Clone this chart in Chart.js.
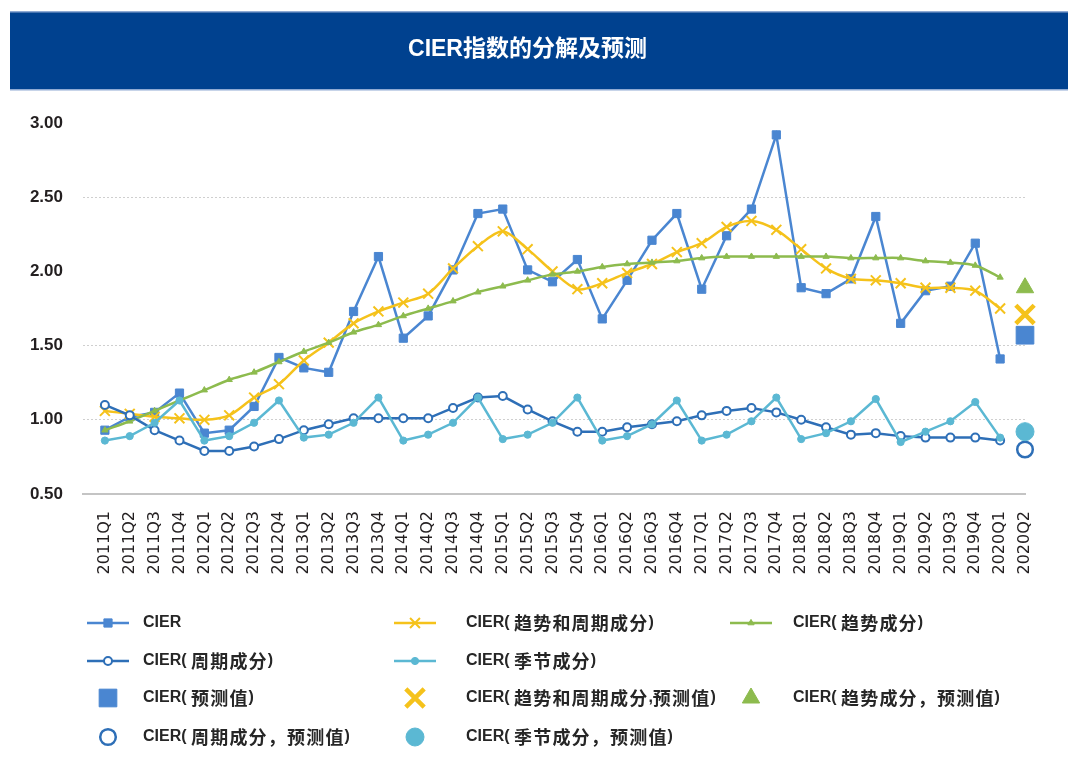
<!DOCTYPE html>
<html><head><meta charset="utf-8">
<script src="https://cdn.jsdelivr.net/npm/chart.js@4/dist/chart.umd.min.js"></script>
<style>html,body{margin:0;padding:0;background:#fff}canvas{display:block}</style>
</head><body>
<canvas id="c" width="1080" height="771"></canvas>
<script>
const quarters = ['2011Q1','2011Q2','2011Q3','2011Q4','2012Q1','2012Q2','2012Q3','2012Q4',
  '2013Q1','2013Q2','2013Q3','2013Q4','2014Q1','2014Q2','2014Q3','2014Q4',
  '2015Q1','2015Q2','2015Q3','2015Q4','2016Q1','2016Q2','2016Q3','2016Q4',
  '2017Q1','2017Q2','2017Q3','2017Q4','2018Q1','2018Q2','2018Q3','2018Q4',
  '2019Q1','2019Q2','2019Q3','2019Q4','2020Q1','2020Q2'];
const yTicks = [0.5, 1.0, 1.5, 2.0, 2.5, 3.0];
const titleText = 'CIER指数的分解及预测';

const cier = [0.93,1.02,1.05,1.18,0.91,0.93,1.09,1.42,1.35,1.32,1.73,2.10,1.55,1.70,2.01,2.39,
  2.42,2.01,1.93,2.08,1.68,1.94,2.21,2.39,1.88,2.24,2.42,2.92,1.89,1.85,1.95,2.37,1.65,1.87,1.90,2.19,1.41];
const trendCycle = [1.06,1.04,1.02,1.01,1.00,1.03,1.15,1.24,1.40,1.52,1.65,1.73,1.79,1.85,2.02,2.17,
  2.27,2.15,2.00,1.88,1.92,1.99,2.05,2.13,2.19,2.30,2.34,2.28,2.15,2.02,1.95,1.94,1.92,1.89,1.89,1.87,1.75];
const trend = [0.93,0.99,1.06,1.13,1.20,1.27,1.32,1.39,1.46,1.52,1.59,1.64,1.70,1.75,1.80,1.86,
  1.90,1.94,1.98,2.00,2.03,2.05,2.06,2.07,2.09,2.10,2.10,2.10,2.10,2.10,2.09,2.09,2.09,2.07,2.06,2.04,1.96];
const cycle = [1.10,1.03,0.93,0.86,0.79,0.79,0.82,0.87,0.93,0.97,1.01,1.01,1.01,1.01,1.08,1.15,
  1.16,1.07,0.99,0.92,0.92,0.95,0.97,0.99,1.03,1.06,1.08,1.05,1.00,0.95,0.90,0.91,0.89,0.88,0.88,0.88,0.86];
const seasonal = [0.86,0.89,0.98,1.13,0.86,0.89,0.98,1.13,0.88,0.90,0.98,1.15,0.86,0.90,0.98,1.15,
  0.87,0.90,0.98,1.15,0.86,0.89,0.97,1.13,0.86,0.90,0.99,1.15,0.87,0.91,0.99,1.14,0.85,0.92,0.99,1.12,0.88];
const forecastCier = [1.57];
const forecastTrendCycle = [1.71];
const forecastTrend = [1.89];
const forecastCycle = [0.80];
const forecastSeasonal = [0.92];

const seriesNames = ['CIER','CIER( 趋势和周期成分)','CIER( 趋势成分)','CIER( 周期成分)','CIER( 季节成分)',
  'CIER( 预测值)','CIER( 趋势和周期成分,预测值)','CIER( 趋势成分，预测值)','CIER( 周期成分，预测值)','CIER( 季节成分，预测值)'];

const C_BLUE = '#4A86D1', C_YEL = '#F5C21B', C_GRN = '#8DBB4E', C_DBL = '#2E6FB7', C_LBL = '#5BB8D3';

const pts = (arr, start) => arr.map((v, i) => ({x: start + i, y: v}));
const lastIdx = quarters.length - 1;

function lineDs(i, data, color, style, radius, extra) {
  return Object.assign({
    label: seriesNames[i], data: pts(data, 0), borderColor: color, backgroundColor: color,
    borderWidth: 2.5, pointStyle: style, pointRadius: radius, pointHoverRadius: radius,
    pointBackgroundColor: color, pointBorderColor: color, pointBorderWidth: 1,
    tension: 0, fill: false, clip: false, order: -i
  }, extra || {});
}
function fcDs(i, data, color, style, radius, extra) {
  return Object.assign({
    label: seriesNames[i], data: pts(data, lastIdx), borderColor: color, backgroundColor: color,
    showLine: false, pointStyle: style, pointRadius: radius, pointHoverRadius: radius,
    pointBackgroundColor: color, pointBorderColor: color, pointBorderWidth: 1,
    clip: false, order: -i
  }, extra || {});
}

const datasets = [
  lineDs(0, cier, C_BLUE, 'rect', 5.8),
  lineDs(1, trendCycle, C_YEL, 'crossRot', 7, {pointBorderWidth: 2, tension: 0.3}),
  lineDs(2, trend, C_GRN, 'triangle', 3.6, {tension: 0.3}),
  lineDs(3, cycle, C_DBL, 'circle', 4, {pointBackgroundColor: '#fff', pointBorderWidth: 2}),
  lineDs(4, seasonal, C_LBL, 'circle', 3.6),
  fcDs(5, forecastCier, C_BLUE, 'rect', 12.5),
  fcDs(6, forecastTrendCycle, C_YEL, 'crossRot', 13, {pointBorderWidth: 4.5}),
  fcDs(7, forecastTrend, C_GRN, 'triangle', 10),
  fcDs(8, forecastCycle, C_DBL, 'circle', 7.8, {pointBackgroundColor: '#fff', pointBorderWidth: 2.5}),
  fcDs(9, forecastSeasonal, C_LBL, 'circle', 9)
];

// legend grid: [row, col] per dataset
const legendCells = [[0,0],[0,1],[0,2],[1,0],[1,1],[2,0],[2,1],[2,2],[3,0],[3,1]];
const legendRowY = [623, 661, 698, 737];
const legendMarkX = [108, 415, 751];
const legendTextX = [143, 466, 793];

const CJK = /[\u3000-\u303f\u4e00-\u9fff\uff00-\uffef]/;
function drawRich(ctx, text, x, y) {
  const runs = text.match(/[\u3000-\u303f\u4e00-\u9fff\uff00-\uffef]+|[^\u3000-\u303f\u4e00-\u9fff\uff00-\uffef]+/g) || [];
  let cx = x;
  for (const r of runs) {
    const cjk = CJK.test(r);
    ctx.font = cjk ? "bold 18px 'Noto Sans CJK SC'" : "bold 16px 'Liberation Sans', 'Noto Sans CJK SC'";
    if ('letterSpacing' in ctx) ctx.letterSpacing = cjk ? '1.2px' : '0px';
    ctx.fillText(r, cx, y);
    cx += ctx.measureText(r).width;
  }
  if ('letterSpacing' in ctx) ctx.letterSpacing = '0px';
}

const bannerPlugin = {
  id: 'banner',
  beforeDraw(chart) {
    const ctx = chart.ctx;
    ctx.save();
    ctx.fillStyle = '#fff';
    ctx.fillRect(0, 0, chart.width, chart.height);
    ctx.fillStyle = '#00418F';
    ctx.fillRect(10, 12, 1058, 78);
    ctx.fillStyle = '#8FAAD3';
    ctx.fillRect(10, 11, 1058, 1.5);
    ctx.fillRect(10, 89, 1058, 1.5);
    ctx.restore();
  }
};

const legendPlugin = {
  id: 'gridLegend',
  afterDraw(chart) {
    const ctx = chart.ctx;
    const draw = Chart.helpers && Chart.helpers.drawPoint;
    chart.data.datasets.forEach((ds, i) => {
      const [row, col] = legendCells[i];
      const y = legendRowY[row];
      const mx = legendMarkX[col];
      ctx.save();
      if (ds.showLine !== false) {
        ctx.strokeStyle = ds.borderColor;
        ctx.lineWidth = ds.borderWidth;
        ctx.beginPath();
        ctx.moveTo(mx - 21, y);
        ctx.lineTo(mx + 21, y);
        ctx.stroke();
      }
      ctx.fillStyle = ds.pointBackgroundColor;
      ctx.strokeStyle = ds.pointBorderColor;
      ctx.lineWidth = ds.pointBorderWidth;
      if (draw) draw(ctx, {pointStyle: ds.pointStyle, radius: ds.pointRadius, borderWidth: ds.pointBorderWidth, rotation: 0}, mx, y);
      ctx.fillStyle = '#262626';
      ctx.textAlign = 'left';
      ctx.textBaseline = 'middle';
      drawRich(ctx, ds.label, legendTextX[col], y);
      ctx.restore();
    });
  }
};

new Chart(document.getElementById('c'), {
  type: 'line',
  data: { datasets },
  options: {
    responsive: false,
    devicePixelRatio: 1,
    animation: false,
    events: [],
    layout: { padding: { left: 30, right: 55, top: 12, bottom: 182 } },
    plugins: {
      legend: { display: false },
      tooltip: { enabled: false },
      title: {
        display: true,
        text: titleText,
        color: '#ffffff',
        font: { family: "'Liberation Sans', 'Noto Sans CJK SC'", size: 23, weight: 'bold', lineHeight: 1.2 },
        padding: { top: 24, bottom: 59.4 }
      }
    },
    scales: {
      x: {
        type: 'linear',
        min: -0.88,
        max: lastIdx,
        afterBuildTicks(scale) { scale.ticks = quarters.map((q, i) => ({ value: i })); },
        afterFit(scale) { scale.height = 95; },
        grid: { display: false, drawTicks: false },
        border: { display: true, color: '#C4C4C4', width: 2 },
        ticks: {
          autoSkip: false, minRotation: 90, maxRotation: 90, padding: 17,
          color: '#231F20',
          font: { family: "'DejaVu Sans'", size: 16 },
          callback: (v) => quarters[v]
        }
      },
      y: {
        min: yTicks[0],
        max: yTicks[yTicks.length - 1],
        afterBuildTicks(scale) { scale.ticks = yTicks.map(v => ({ value: v })); },
        afterFit(scale) { scale.width = 53; },
        grid: {
          drawTicks: false,
          lineWidth: 1,
          color: (ctx) => ([1.0, 1.5, 2.5].includes(ctx.tick && ctx.tick.value) ? '#CFCFCF' : 'rgba(0,0,0,0)')
        },
        border: { display: false, dash: [2, 2] },
        ticks: {
          padding: 20,
          color: '#231F20',
          font: { family: "'Liberation Sans'", size: 17, weight: 'bold' },
          callback: (v) => Number(v).toFixed(2)
        }
      }
    }
  },
  plugins: [bannerPlugin, legendPlugin]
});
</script>
</body></html>
